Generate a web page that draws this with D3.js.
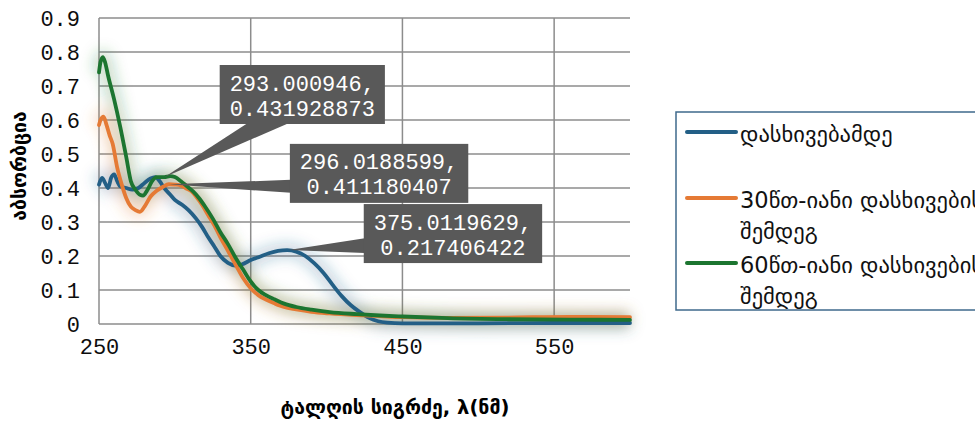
<!DOCTYPE html>
<html><head><meta charset="utf-8">
<script src="https://cdn.jsdelivr.net/npm/d3@7"></script>
<style>body{margin:0;background:#fff;overflow:hidden}svg{display:block}</style>
</head><body>
<svg id="c" width="975" height="423"></svg>
<script>
// ---- data ----
const seriesNames = ["დასხივებამდე", "30წთ-იანი დასხივების შემდეგ", "60წთ-იანი დასხივების შემდეგ"];
const seriesColors = ["#235f86", "#e57a35", "#1c7530"];
const blueX = [250,252,254,256,258,260,262,264,268,272,276,280,284,287,290,293,297,300,305,309,314,318,322,326,330,335,340,344,350,356,362,368,374,380,386,392,398,404,410,416,422,428,434,440,450,500,550,600];
const blueY = [0.41,0.43,0.415,0.40,0.43,0.44,0.42,0.405,0.40,0.395,0.40,0.415,0.428,0.432,0.42,0.40,0.38,0.365,0.35,0.335,0.31,0.285,0.255,0.228,0.20,0.18,0.172,0.175,0.188,0.198,0.208,0.215,0.2175,0.213,0.20,0.178,0.15,0.115,0.082,0.055,0.035,0.018,0.008,0.004,0.002,0.002,0.003,0.003];
const orangeX = [250,251,253,255,257,259,262,265,268,271,274,277,280,284,288,292,296,300,304,307,311,314,318,322,326,330,335,340,345,350,355,360,366,372,380,390,402,420,435,450,480,520,560,600];
const orangeY = [0.585,0.60,0.61,0.585,0.555,0.53,0.46,0.41,0.37,0.345,0.335,0.33,0.345,0.375,0.392,0.403,0.411,0.41,0.407,0.40,0.39,0.375,0.35,0.32,0.29,0.255,0.215,0.175,0.135,0.105,0.085,0.072,0.06,0.05,0.043,0.036,0.031,0.026,0.023,0.02,0.018,0.019,0.021,0.02];
const greenX = [250,251,252.5,254,256,260,264,268,271,274,277,279,282,285,288,293,297,300,304,308,312,316,320,325,330,335,340,345,350,355,360,366,372,380,390,402,420,435,450,480,520,560,600];
const greenY = [0.74,0.77,0.785,0.77,0.73,0.66,0.58,0.49,0.42,0.395,0.38,0.378,0.395,0.42,0.432,0.432,0.435,0.432,0.42,0.405,0.39,0.37,0.345,0.31,0.27,0.235,0.195,0.16,0.125,0.10,0.085,0.072,0.06,0.05,0.042,0.035,0.029,0.025,0.022,0.017,0.014,0.013,0.012];
const xTicks = [250,350,450,550];
const yTicks = [0,0.1,0.2,0.3,0.4,0.5,0.6,0.7,0.8,0.9];
const xTitle = "ტალღის სიგრძე, λ(ნმ)";
const yTitle = "აბსორბცია";
// callouts: data point + box centre (in data units) + texts
const calloutX = [293.000946, 296.0188599, 375.0119629];
const calloutY = [0.431928873, 0.411180407, 0.217406422];
const calloutLines = [["293.000946,","0.431928873"],["296.0188599,","0.411180407"],["375.0119629,","0.217406422"]];
const boxCX = [384, 434.6, 483.3];
const boxCY = [0.675, 0.443, 0.266];

// ---- drawing ----
const svg = d3.select("#c");
const x = d3.scaleLinear().domain([250,600]).range([99,630]);
const y = d3.scaleLinear().domain([0,0.9]).range([324,18]);
const mono = "'Liberation Mono', 'DejaVu Sans Mono', monospace";
const geo = "'DejaVu Sans', sans-serif";
const grid = "#8c8c8c";

const defs = svg.append("defs");
defs.append("filter").attr("id","glow").attr("x","-20%").attr("y","-20%").attr("width","140%").attr("height","140%")
  .append("feGaussianBlur").attr("stdDeviation",7);

// grid
svg.append("g").selectAll("line").data(yTicks).join("line")
  .attr("x1",x(250)).attr("x2",x(600)).attr("y1",d=>y(d)).attr("y2",d=>y(d))
  .attr("stroke",grid).attr("stroke-width",1.5);
svg.append("g").selectAll("line").data(xTicks).join("line")
  .attr("x1",d=>x(d)).attr("x2",d=>x(d)).attr("y1",y(0.9)).attr("y2",y(0))
  .attr("stroke",grid).attr("stroke-width",1.5);

// axes labels
const yAxis = d3.axisLeft(y).tickValues(yTicks).tickSize(0).tickPadding(19).tickFormat(d=>d===0?"0":d3.format(".1f")(d));
const gy = svg.append("g").attr("transform",`translate(${x(250)},0)`).call(yAxis);
gy.select(".domain").remove();
gy.selectAll("text").attr("font-family",mono).attr("font-size",22).attr("fill","#0d0d0d");
const xAxis = d3.axisBottom(x).tickValues(xTicks).tickSize(0).tickPadding(14).tickFormat(d3.format("d"));
const gx = svg.append("g").attr("transform",`translate(0,${y(0)})`).call(xAxis);
gx.select(".domain").remove();
gx.selectAll("text").attr("font-family",mono).attr("font-size",22).attr("fill","#0d0d0d");

// series
const data = [d3.zip(blueX,blueY), d3.zip(orangeX,orangeY), d3.zip(greenX,greenY)];
const line = d3.line().x(d=>x(d[0])).y(d=>y(d[1])).curve(d3.curveMonotoneX);
const glowG = svg.append("g").attr("filter","url(#glow)");
data.forEach((s,i)=>{
  glowG.append("path").attr("d",line(s)).attr("fill","none").attr("stroke",seriesColors[i])
    .attr("stroke-width",14).attr("stroke-opacity",0.25).attr("stroke-linejoin","round");
});
data.forEach((s,i)=>{
  svg.append("path").attr("d",line(s)).attr("fill","none").attr("stroke",seriesColors[i])
    .attr("stroke-width",3.8).attr("stroke-linejoin","round").attr("stroke-linecap","round");
});

// callouts
const boxH = 59, pad = 10;
const anchors = [ {side:"bottom", a:0.17, b:0.42}, {side:"left", a:0.61, b:0.83}, {side:"left", a:0.58, b:0.83} ];
calloutX.forEach((cx,i)=>{
  const g = svg.append("g");
  const t = g.append("text").attr("font-family",mono).attr("font-size",22).attr("fill","#fff").attr("text-anchor","middle");
  calloutLines[i].forEach((s,k)=>t.append("tspan").attr("x",x(boxCX[i])).attr("y",y(boxCY[i]) - 4 + k*25).text(s));
  const w = Math.max(...calloutLines[i].map(s=>s.length))*13.2 + 2*pad;
  const bx = x(boxCX[i]) - w/2, by = y(boxCY[i]) - boxH/2;
  const px = x(cx), py = y(calloutY[i]);
  const an = anchors[i];
  let pts;
  if (an.side==="bottom") pts = [[bx+w*an.a, by+boxH-1],[px,py],[bx+w*an.b, by+boxH-1]];
  else pts = [[bx+1, by+boxH*an.a],[px,py],[bx+1, by+boxH*an.b]];
  g.insert("polygon","text").attr("points",pts.map(p=>p.join(",")).join(" ")).attr("fill","#595959");
  g.insert("rect","text").attr("x",bx).attr("y",by).attr("width",w).attr("height",boxH).attr("fill","#595959");
});

// axis titles
svg.append("text").attr("transform",`translate(26,166) rotate(-90)`).attr("text-anchor","middle")
  .attr("font-family",geo).attr("font-size",19.5).attr("font-weight","bold").attr("fill","#000").text(yTitle);
svg.append("text").attr("x",395).attr("y",414).attr("text-anchor","middle")
  .attr("font-family",geo).attr("font-size",19.5).attr("font-weight","bold").attr("fill","#000").text(xTitle);

// legend
const lg = svg.append("g");
lg.append("rect").attr("x",676).attr("y",112).attr("width",320).attr("height",198)
  .attr("fill","#fff").attr("stroke","#3f6a8c").attr("stroke-width",1.5);
const legY = [132, 198, 263];
const legLines = [[seriesNames[0]],["30წთ-იანი დასხივების","შემდეგ"],["60წთ-იანი დასხივების","შემდეგ"]];
seriesNames.forEach((n,i)=>{
  lg.append("line").attr("x1",687).attr("x2",736).attr("y1",legY[i]).attr("y2",legY[i])
    .attr("stroke",seriesColors[i]).attr("stroke-width",4).attr("stroke-linecap","round");
  const t = lg.append("text").attr("font-family",geo).attr("font-size",22.5).attr("fill","#111");
  legLines[i].forEach((s,k)=>t.append("tspan").attr("x",740).attr("y",legY[i]+10+k*31).text(s));
});
</script>
</body></html>
